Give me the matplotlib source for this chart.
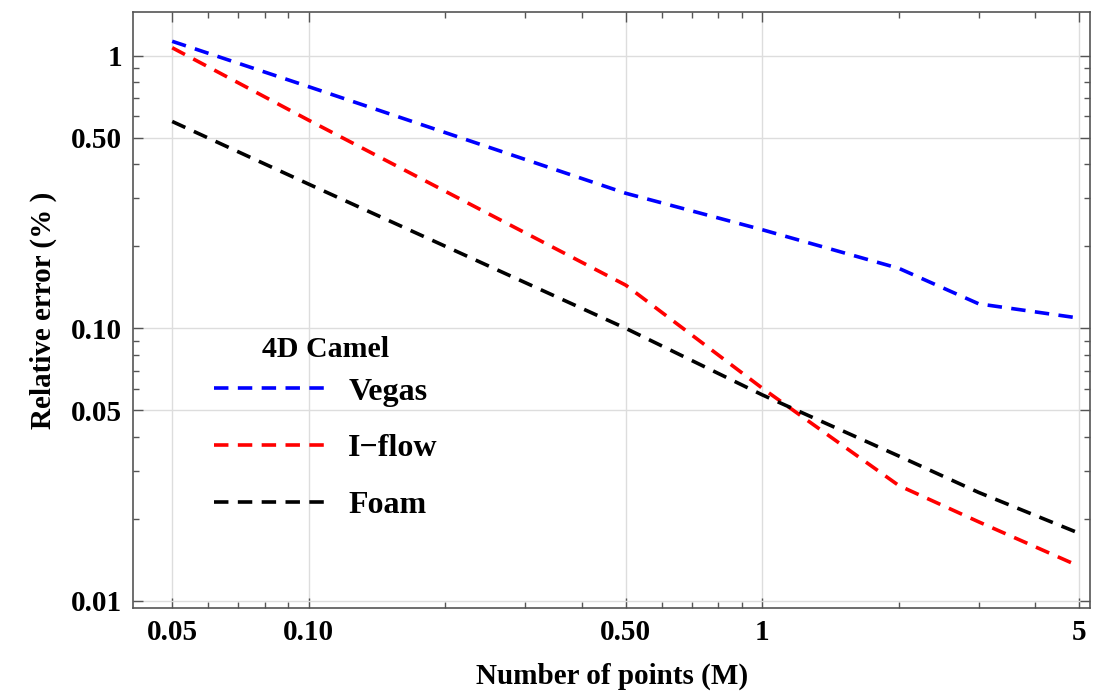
import matplotlib
matplotlib.use("Agg")
import matplotlib.pyplot as plt
from matplotlib.ticker import FixedLocator, FixedFormatter, LogLocator, NullFormatter

plt.rcParams['font.family'] = ['Liberation Serif', 'DejaVu Serif']
plt.rcParams['font.weight'] = 'bold'

# dados (pontos em milhões, erro relativo em %)
pontos = [0.05, 0.1, 0.5, 1, 2, 3, 5]
vegas = [1.13, 0.77, 0.313, 0.23, 0.166, 0.123, 0.109]
iflow = [1.07, 0.58, 0.144, 0.0603, 0.0265, 0.0195, 0.0134]
foam = [0.574, 0.338, 0.100, 0.057, 0.034, 0.025, 0.0177]

xticks = [0.05, 0.1, 0.5, 1, 5]
xlabels = ['0.05', '0.10', '0.50', '1', '5']
yticks = [0.01, 0.05, 0.1, 0.5, 1]
ylabels = ['0.01', '0.05', '0.10', '0.50', '1']

fig = plt.figure(figsize=(11, 6.92), dpi=100)
ax = fig.add_axes([0.121, 0.121, 0.870, 0.862])

estilo = (0, (4.0, 2.6))
ax.plot(pontos, vegas, color='#0000ff', lw=2.6, linestyle=estilo, label='Vegas')
ax.plot(pontos, iflow, color='#ff0000', lw=2.6, linestyle=estilo, label='I\u2212flow')
ax.plot(pontos, foam, color='black', lw=2.6, linestyle=estilo, label='Foam')

ax.set_xscale('log')
ax.set_yscale('log')
ax.set_xlim(0.041, 5.28)
ax.set_ylim(0.0094, 1.45)

ax.xaxis.set_major_locator(FixedLocator(xticks))
ax.xaxis.set_major_formatter(FixedFormatter(xlabels))
ax.yaxis.set_major_locator(FixedLocator(yticks))
ax.yaxis.set_major_formatter(FixedFormatter(ylabels))
ax.xaxis.set_minor_locator(LogLocator(base=10, subs=range(2, 10)))
ax.yaxis.set_minor_locator(LogLocator(base=10, subs=range(2, 10)))
ax.xaxis.set_minor_formatter(NullFormatter())
ax.yaxis.set_minor_formatter(NullFormatter())

ax.tick_params(which='both', direction='in', top=True, right=True, color='#555555', width=1)
ax.tick_params(which='major', length=7, labelsize=21, pad=8)
ax.tick_params(which='minor', length=4)

for s in ax.spines.values():
    s.set_color('#555555')
    s.set_linewidth(1.2)

ax.grid(True, which='major', color='#dddddd', lw=1)
ax.set_axisbelow(True)

ax.set_xlabel('Number of points (M)', fontsize=21, fontweight='bold', labelpad=12)
ax.set_ylabel('Relative error (% )', fontsize=21, fontweight='bold', labelpad=10)

# legenda sem título; o título vai como texto separado
leg = ax.legend(loc='upper left', bbox_to_anchor=(0.0846, 0.3873),
                frameon=False, fontsize=23, handlelength=3.5,
                handletextpad=0.7, labelspacing=0.86, borderpad=0, borderaxespad=0)
ax.text(0.2006, 0.433, '4D Camel', transform=ax.transAxes, ha='center', va='center',
        fontsize=21.5, fontweight='bold')

plt.savefig('out.png', dpi=100)
